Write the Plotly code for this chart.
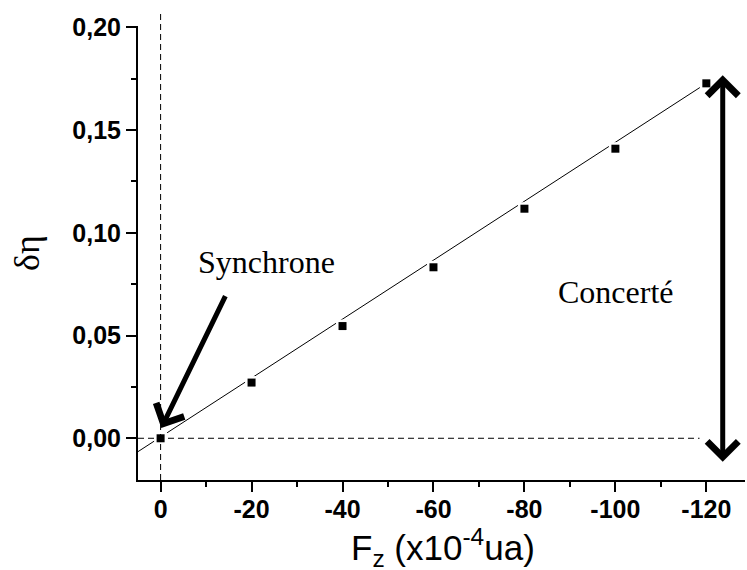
import plotly.graph_objects as go

# ---- data ----
fz = [0, -20, -40, -60, -80, -100, -120]
d_eta = [0.000, 0.0271, 0.0546, 0.0832, 0.1117, 0.1409, 0.1727]
fit_fz = [4.97, -120]
fit_eta = [-0.0065, 0.1727]

x_ticks = [0, -20, -40, -60, -80, -100, -120]
x_tick_labels = ["0", "-20", "-40", "-60", "-80", "-100", "-120"]
y_ticks = [0.00, 0.05, 0.10, 0.15, 0.20]
y_tick_labels = ["0,00", "0,05", "0,10", "0,15", "0,20"]

x_range = [4.97, -128.5]
y_range = [-0.0203, 0.2006]

fig = go.Figure()

# fit line
fig.add_trace(go.Scatter(x=fit_fz, y=fit_eta, mode="lines",
                         line=dict(color="black", width=1), showlegend=False,
                         hoverinfo="skip"))
# white halo behind markers (Origin-style gap)
fig.add_trace(go.Scatter(x=fz, y=d_eta, mode="markers",
                         marker=dict(symbol="square", size=13, color="white"),
                         showlegend=False, hoverinfo="skip"))
fig.add_trace(go.Scatter(x=fz, y=d_eta, mode="markers",
                         marker=dict(symbol="square", size=8, color="black"),
                         showlegend=False))

# dashed reference lines
x0_paper = (0 - x_range[0]) / (x_range[1] - x_range[0])
fig.add_shape(type="line", xref="paper", yref="paper", x0=x0_paper, x1=x0_paper,
              y0=0, y1=1.0286, line=dict(color="black", width=1, dash="6px,4px"))
fig.add_shape(type="line", xref="x", yref="y", x0=x_range[0], x1=-118.5,
              y0=0, y1=0, line=dict(color="black", width=1, dash="6px,4px"))

# arrows
fig.add_annotation(x=-0.15, y=0.005, ax=-14.4, ay=0.0699, xref="x", yref="y",
                   axref="x", ayref="y", text="", showarrow=True,
                   arrowhead=4, arrowsize=1.2, arrowwidth=5, arrowcolor="black",
                   standoff=0)
fig.add_annotation(x=-123.6, y=0.1766, ax=-123.6, ay=-0.0122, xref="x", yref="y",
                   axref="x", ayref="y", text="", showarrow=True,
                   arrowhead=4, startarrowhead=4, arrowside="end+start",
                   arrowsize=1.2, startarrowsize=1.2, arrowwidth=5,
                   arrowcolor="black", standoff=0, startstandoff=0)

serif = "Liberation Serif, Times New Roman, serif"
sans = "Liberation Sans, Arial, sans-serif"

fig.add_annotation(x=-23.25, y=0.0858, xref="x", yref="y", text="Synchrone",
                   showarrow=False, font=dict(family=serif, size=32, color="black"),
                   xanchor="center", yanchor="middle")
fig.add_annotation(x=-100.2, y=0.0712, xref="x", yref="y", text="Concerté",
                   showarrow=False, font=dict(family=serif, size=32, color="black"),
                   xanchor="center", yanchor="middle")

# axis titles
fig.add_annotation(x=-0.183, y=0.5, xref="paper", yref="paper", text="δη",
                   textangle=-90, showarrow=False,
                   font=dict(family=serif, size=36, color="black"),
                   xanchor="center", yanchor="middle")
fig.add_annotation(x=0.503, y=-0.148, xref="paper", yref="paper",
                   text="F<sub>z</sub> (x10<sup>-4</sup>ua)", showarrow=False,
                   font=dict(family=sans, size=35, color="black"),
                   xanchor="center", yanchor="middle")

fig.update_layout(
    width=747, height=570,
    margin=dict(l=138, r=2, t=26, b=90),
    paper_bgcolor="white", plot_bgcolor="white",
    showlegend=False,
)
fig.update_xaxes(range=x_range, tickvals=x_ticks, ticktext=x_tick_labels,
                 showgrid=False, zeroline=False, showline=True, linecolor="black",
                 linewidth=2, ticks="outside", ticklen=10, tickwidth=2,
                 tickcolor="black", ticklabelstandoff=-4,
                 tickfont=dict(family=sans, size=25, color="black", weight="bold"),
                 minor=dict(dtick=10, tick0=0, ticks="outside", ticklen=5,
                            tickwidth=2, tickcolor="black", showgrid=False))
fig.update_yaxes(range=y_range, tickvals=y_ticks, ticktext=y_tick_labels,
                 showgrid=False, zeroline=False, showline=True, linecolor="black",
                 linewidth=2, ticks="outside", ticklen=10, tickwidth=2,
                 tickcolor="black",
                 tickfont=dict(family=sans, size=25, color="black", weight="bold"),
                 minor=dict(dtick=0.025, tick0=0, ticks="outside", ticklen=5,
                            tickwidth=2, tickcolor="black", showgrid=False))

fig.write_html("out.html", config={"displayModeBar": False},
               post_script="document.body.style.margin='0';document.body.style.padding='0';")
